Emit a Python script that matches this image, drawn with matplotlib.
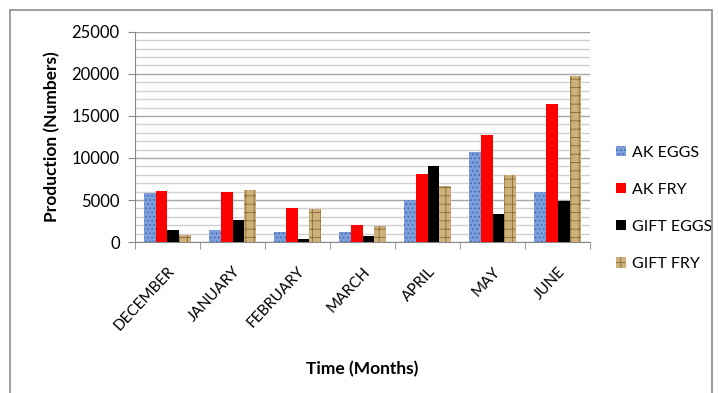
import matplotlib.pyplot as plt
import numpy as np
from matplotlib.patches import Rectangle
from matplotlib.ticker import MultipleLocator

plt.rcParams["font.family"] = ["Lato", "DejaVu Sans"]
plt.rcParams["hatch.linewidth"] = 0.6

months = ["DECEMBER", "JANUARY", "FEBRUARY", "MARCH", "APRIL", "MAY", "JUNE"]
ak_eggs = [5800, 1450, 1250, 1200, 5000, 10750, 5950]
ak_fry = [6100, 5950, 4000, 2000, 8100, 12750, 16400]
gift_eggs = [1400, 2600, 400, 750, 9100, 3300, 4850]
gift_fry = [900, 6200, 3900, 1950, 6700, 7950, 19800]

series = [
    ("AK EGGS", ak_eggs, "#7a9fdc", "#3f63a8", "...."),
    ("AK FRY", ak_fry, "#ff0000", "#ff0000", None),
    ("GIFT EGGS", gift_eggs, "#000000", "#000000", None),
    ("GIFT FRY", gift_fry, "#cdb07a", "#8c6a35", "++"),
]

fig = plt.figure(figsize=(7.18, 3.93), dpi=100)
ax = fig.add_axes([0.188, 0.384, 0.634, 0.535])

x = np.arange(len(months))
width = 0.182
for i, (name, vals, face, edge, hatch) in enumerate(series):
    offset = (i - 1.5) * width
    ax.bar(x + offset, vals, width, color=face, edgecolor=edge, hatch=hatch,
           linewidth=0, label=name, zorder=3)

ax.set_xlim(-0.5, len(months) - 0.5)
ax.set_ylim(0, 25000)
ax.yaxis.set_major_locator(MultipleLocator(5000))
ax.yaxis.set_minor_locator(MultipleLocator(1000))
ax.grid(which="major", axis="y", color="#a6a6a6", linewidth=1.0, zorder=0)
ax.grid(which="minor", axis="y", color="#d0d0d0", linewidth=1.0, zorder=0)
ax.tick_params(axis="y", which="minor", length=0)
ax.tick_params(axis="y", which="major", length=5, color="#888888",
               labelsize=12, pad=6)

ax.set_xticks(x)
ax.set_xticks(np.arange(-0.5, len(months)), minor=True)
ax.tick_params(axis="x", which="major", length=0, pad=16)
ax.tick_params(axis="x", which="minor", length=5, color="#888888")
ax.set_xticklabels(months, rotation=47, ha="right", rotation_mode="anchor",
                   fontsize=11)

for side in ["top", "right"]:
    ax.spines[side].set_visible(False)
for side in ["left", "bottom"]:
    ax.spines[side].set_color("#888888")

ax.set_ylabel("Production (Numbers)", fontsize=12.5, fontweight="bold",
              labelpad=8)
ax.set_xlabel("Time (Months)", fontsize=12.5, fontweight="bold", labelpad=20)

ax.legend(loc="center left", bbox_to_anchor=(1.025, 0.16), frameon=False,
          fontsize=11.5, handlelength=0.6, handleheight=0.6,
          handletextpad=0.4, labelspacing=1.45)

fig.patches.append(Rectangle((0.014, -0.01), 0.978, 0.985, transform=fig.transFigure,
                             fill=False, edgecolor="#8c8c8c", linewidth=1.2))

fig.savefig("out.png", dpi=100)
